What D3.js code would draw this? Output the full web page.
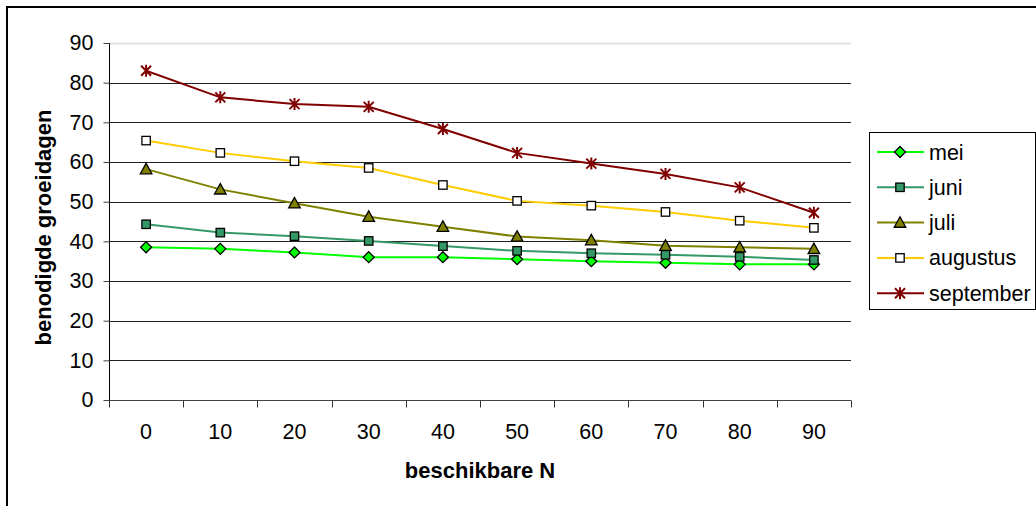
<!DOCTYPE html>
<html>
<head>
<meta charset="utf-8">
<script src="https://cdn.jsdelivr.net/npm/d3@7"></script>
<style>
  html, body { margin: 0; padding: 0; background: #fff; }
  svg { display: block; font-family: Arial, "Liberation Sans", sans-serif; }
</style>
</head>
<body>
<svg id="chart" width="1036" height="506"></svg>
<script>
// Categories: beschikbare N
const categories = ["0", "10", "20", "30", "40", "50", "60", "70", "80", "90"];

// Benodigde groeidagen per maand
const mei       = [38.5, 38.1, 37.2, 36.0, 36.0, 35.5, 35.0, 34.6, 34.2, 34.2];
const juni      = [44.3, 42.2, 41.3, 40.1, 38.8, 37.6, 37.0, 36.6, 36.1, 35.3];
const juli      = [58.2, 53.1, 49.6, 46.2, 43.7, 41.2, 40.3, 38.9, 38.5, 38.1];
const augustus  = [65.4, 62.3, 60.2, 58.5, 54.2, 50.2, 49.0, 47.4, 45.2, 43.4];
const september = [83.0, 76.3, 74.6, 73.9, 68.3, 62.3, 59.6, 57.0, 53.6, 47.2];

const yTicks = [0, 10, 20, 30, 40, 50, 60, 70, 80, 90];

const series = [
  { name: "mei",       values: mei,       line: "#00ff00", fill: "#00ff00", marker: "diamond" },
  { name: "juni",      values: juni,      line: "#339966", fill: "#339966", marker: "square" },
  { name: "juli",      values: juli,      line: "#808000", fill: "#808000", marker: "triangle" },
  { name: "augustus",  values: augustus,  line: "#ffcc00", fill: "#ffffff", marker: "square" },
  { name: "september", values: september, line: "#800000", fill: "none",    marker: "star" }
];

const svg = d3.select("#chart");
const tickFont = 21.5, titleFont = 22;

// outer chart frame
svg.append("rect")
  .attr("x", 7).attr("y", 7)
  .attr("width", 1040).attr("height", 520)
  .attr("fill", "none").attr("stroke", "#000").attr("stroke-width", 2);

const pLeft = 109, pRight = 851, pTop = 43, pBottom = 400;

const x = d3.scaleBand().domain(categories).range([pLeft, pRight]).paddingInner(0).paddingOuter(0);
const y = d3.scaleLinear().domain([0, 90]).range([pBottom, pTop]);

// horizontal gridlines
svg.append("g").selectAll("line")
  .data(yTicks.filter(t => t > 0))
  .join("line")
  .attr("x1", pLeft).attr("x2", pRight)
  .attr("y1", d => Math.round(y(d)) + 0.5).attr("y2", d => Math.round(y(d)) + 0.5)
  .attr("stroke", d => d === 90 ? "#e2e2e2" : "#222")
  .attr("stroke-width", d => d === 90 ? 2 : 1);

// y axis
const yAxis = d3.axisLeft(y).tickValues(yTicks).tickSize(6).tickPadding(10);
const gy = svg.append("g").attr("transform", `translate(${pLeft + 0.5},0)`).call(yAxis);
gy.select(".domain").attr("stroke", "#000").attr("d", `M0,${pTop}V${pBottom}`);
gy.selectAll(".tick line").attr("stroke", "#444");
gy.selectAll(".tick text").attr("font-size", tickFont).attr("fill", "#000")
  .attr("font-family", "Arial, 'Liberation Sans', sans-serif");

// x axis with ticks between categories
const gx = svg.append("g").attr("transform", `translate(0,${pBottom + 0.5})`);
gx.append("line").attr("x1", pLeft).attr("x2", pRight).attr("stroke", "#444");
const bounds = categories.map(c => x(c)).concat([pRight]);
gx.selectAll("line.tk").data(bounds).join("line").attr("class", "tk")
  .attr("x1", d => Math.round(d) + 0.5).attr("x2", d => Math.round(d) + 0.5)
  .attr("y1", 0).attr("y2", 7).attr("stroke", "#333");
gx.selectAll("text").data(categories).join("text")
  .attr("x", d => x(d) + x.bandwidth() / 2)
  .attr("y", 38)
  .attr("text-anchor", "middle")
  .attr("font-size", tickFont).attr("fill", "#000")
  .text(d => d);

// axis titles
svg.append("text")
  .attr("x", (pLeft + pRight) / 2).attr("y", 478)
  .attr("text-anchor", "middle")
  .attr("font-size", titleFont).attr("font-weight", "bold")
  .text("beschikbare N");

svg.append("text")
  .attr("transform", `translate(51,${(pTop + pBottom) / 2 + 6}) rotate(-90)`)
  .attr("text-anchor", "middle")
  .attr("font-size", titleFont).attr("font-weight", "bold")
  .text("benodigde groeidagen");

// marker drawing
function drawMarker(g, s, cx, cy) {
  if (s.marker === "diamond") {
    const r = 5.5;
    g.append("path")
      .attr("d", `M${cx},${cy - r}L${cx + r},${cy}L${cx},${cy + r}L${cx - r},${cy}Z`)
      .attr("fill", s.fill).attr("stroke", "#000").attr("stroke-width", 1.3);
  } else if (s.marker === "square") {
    const h = 4.2;
    g.append("rect")
      .attr("x", cx - h).attr("y", cy - h).attr("width", 2 * h).attr("height", 2 * h)
      .attr("fill", s.fill).attr("stroke", "#000").attr("stroke-width", 1.3);
  } else if (s.marker === "triangle") {
    const r = 5.8;
    g.append("path")
      .attr("d", `M${cx},${cy - r}L${cx + r},${cy + r * 0.8}L${cx - r},${cy + r * 0.8}Z`)
      .attr("fill", s.fill).attr("stroke", "#000").attr("stroke-width", 1.3);
  } else if (s.marker === "star") {
    const r = 6, d = 5;
    g.append("path")
      .attr("d", `M${cx},${cy - r}V${cy + r}M${cx - d},${cy - d}L${cx + d},${cy + d}M${cx - d},${cy + d}L${cx + d},${cy - d}`)
      .attr("fill", "none").attr("stroke", s.line).attr("stroke-width", 2);
  }
}

const cxOf = i => x(categories[i]) + x.bandwidth() / 2;
const line = d3.line().x((d, i) => cxOf(i)).y(d => y(d));

const plot = svg.append("g");
series.forEach(s => {
  plot.append("path")
    .datum(s.values)
    .attr("d", line)
    .attr("fill", "none")
    .attr("stroke", s.line)
    .attr("stroke-width", 2);
});
series.forEach(s => {
  const g = plot.append("g");
  s.values.forEach((v, i) => drawMarker(g, s, cxOf(i), y(v)));
});

// legend
const lg = svg.append("g");
lg.append("rect")
  .attr("x", 869.5).attr("y", 132.5).attr("width", 166).attr("height", 177)
  .attr("fill", "#fff").attr("stroke", "#000").attr("stroke-width", 1);
series.forEach((s, i) => {
  const ly = 152 + i * 35.3;
  lg.append("line").attr("x1", 877).attr("x2", 924).attr("y1", ly).attr("y2", ly)
    .attr("stroke", s.line).attr("stroke-width", 2);
  drawMarker(lg, s, 900, ly);
  lg.append("text").attr("x", 929).attr("y", ly + 7.5)
    .attr("font-size", tickFont).attr("fill", "#000").text(s.name);
});
</script>
</body>
</html>
